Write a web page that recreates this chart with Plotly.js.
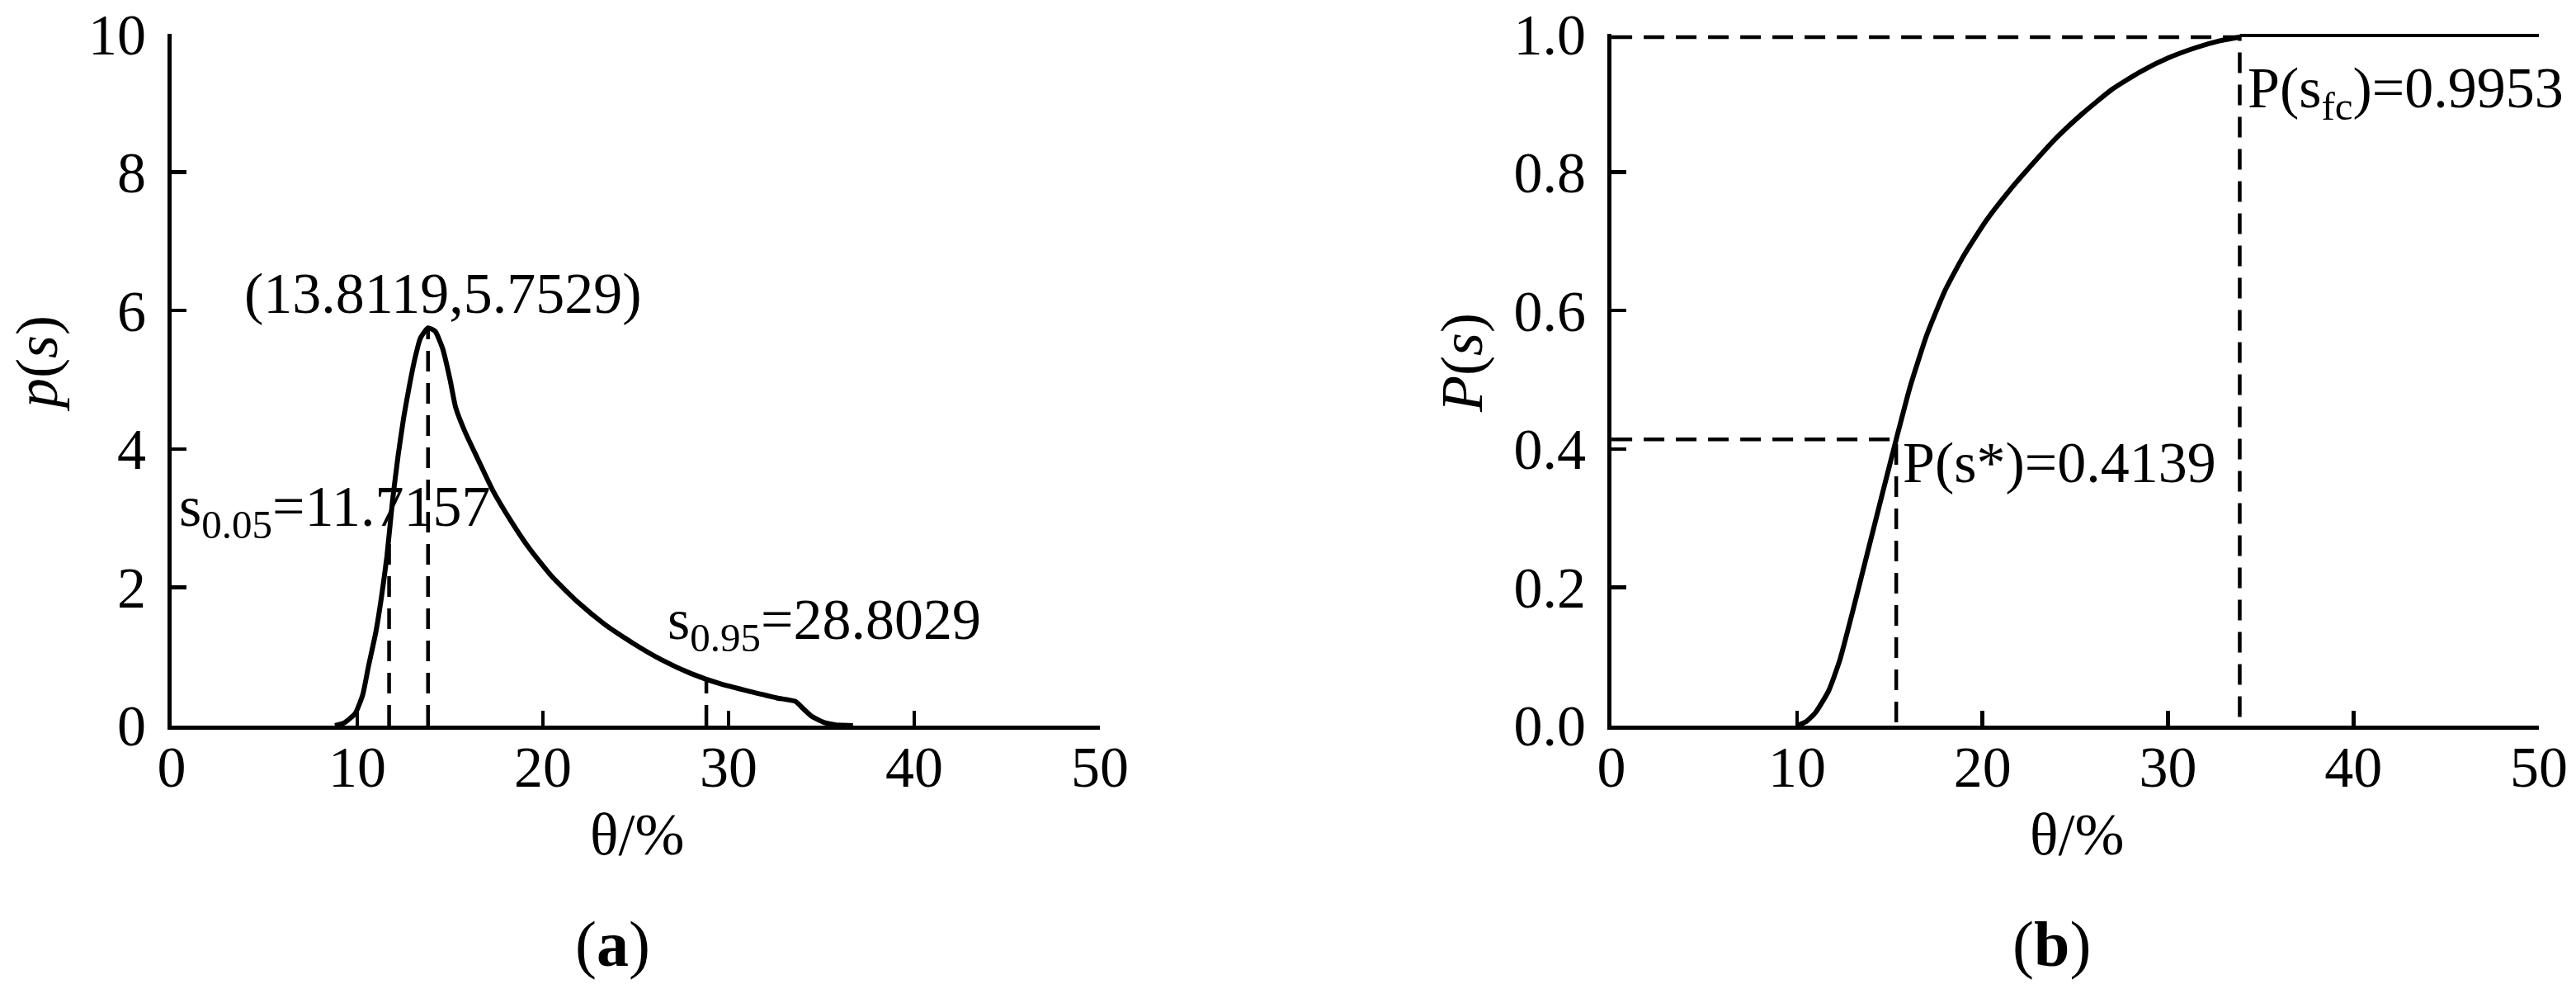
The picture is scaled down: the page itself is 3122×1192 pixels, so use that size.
<!DOCTYPE html>
<html>
<head>
<meta charset="utf-8">
<script src="https://cdn.plot.ly/plotly-3.0.1.min.js"></script>
<style>
  html, body { margin: 0; padding: 0; background: #fff; }
  #plot { width: 3122px; height: 1192px; }
</style>
</head>
<body>
<div id="plot"></div>
<script>
// 1. Data

// (a) probability density p(s) against theta (%)
var pdfTheta = [8.8, 9.3, 9.9, 10.3, 10.6, 11.0, 11.3, 11.6, 11.9, 12.2, 12.5, 12.8, 13.1, 13.4, 13.81,
  14.2, 14.6, 15.0, 15.3, 15.8, 16.5, 17.3, 18.3, 19.3, 20.5, 21.9, 23.3, 24.8, 26.4, 28.0,
  29.6, 31.2, 32.6, 33.6, 34.0, 34.5, 35.1, 35.8, 36.7];
var pdfValue = [0, 0.04, 0.18, 0.45, 0.85, 1.35, 1.85, 2.45, 3.25, 3.9, 4.45, 4.9, 5.3, 5.6, 5.75,
  5.7, 5.45, 5.0, 4.6, 4.25, 3.85, 3.4, 2.95, 2.55, 2.15, 1.78, 1.47, 1.2, 0.95, 0.75,
  0.6, 0.49, 0.4, 0.35, 0.25, 0.13, 0.05, 0.01, 0];

// (b) cumulative probability P(s)
var cdfTheta = [10.0, 10.5, 11.0, 11.7, 12.3, 13.0, 13.8, 14.6, 15.35, 16.1, 17.0, 18.0, 19.0,
  20.2, 21.5, 22.8, 24.0, 25.4, 27.0, 28.5, 30.0, 31.5, 32.8, 33.87];
var cdfValue = [0, 0.006, 0.019, 0.05, 0.094, 0.165, 0.25, 0.335, 0.4139, 0.49, 0.565, 0.63, 0.68,
  0.73, 0.775, 0.815, 0.85, 0.885, 0.92, 0.945, 0.965, 0.98, 0.99, 0.9953];
var flatTheta = [33.87, 50];
var flatValue = [1, 1];

// marked points
var s05 = 11.7157, p05 = 2.63;
var sPeak = 13.8119, pPeak = 5.7529;
var s95 = 28.8029, p95 = 0.68;
var sStar = 15.35, PStar = 0.4139;
var sFc = 33.87, PFc = 0.9953;

// tick values
var xTicks = [0, 10, 20, 30, 40, 50];
var yTicksA = [0, 2, 4, 6, 8, 10];
var yTicksB = [0, 0.2, 0.4, 0.6, 0.8, 1.0];

// 2. Traces
var solid = { color: "black", width: 6, shape: "spline", smoothing: 0.5 };
var dashed = { color: "black", width: 4.5, dash: "25px,14px" };

var tracePdf = { x: pdfTheta, y: pdfValue, xaxis: "x", yaxis: "y", mode: "lines", line: solid };
var dash05 = { x: [s05, s05], y: [0, p05], xaxis: "x", yaxis: "y", mode: "lines", line: dashed };
var dashPeak = { x: [sPeak, sPeak], y: [0, pPeak], xaxis: "x", yaxis: "y", mode: "lines", line: dashed };
var dash95 = { x: [s95, s95], y: [0, p95], xaxis: "x", yaxis: "y", mode: "lines", line: dashed };

var traceCdf = { x: cdfTheta, y: cdfValue, xaxis: "x2", yaxis: "y2", mode: "lines", line: solid };
var traceFlat = { x: flatTheta, y: flatValue, xaxis: "x2", yaxis: "y2", mode: "lines",
  line: { color: "black", width: 8 } };
var dashStar = { x: [0, sStar, sStar], y: [PStar, PStar, 0], xaxis: "x2", yaxis: "y2", mode: "lines", line: dashed };
var dashFc = { x: [0, sFc, sFc], y: [PFc, PFc, 0], xaxis: "x2", yaxis: "y2", mode: "lines", line: dashed };

var data = [tracePdf, dash05, dashPeak, dash95, traceCdf, traceFlat, dashStar, dashFc];

// 3. Layout
var serif = "Liberation Serif, Times New Roman, serif";
function axis(dom, rng, vals, anchor, fmt) {
  return {
    domain: dom, range: rng, tickvals: vals, anchor: anchor, tickformat: fmt,
    showline: true, linecolor: "black", linewidth: 5,
    ticks: "inside", ticklen: 18, tickwidth: 4.5, tickcolor: "black",
    tickfont: { family: serif, size: 70, color: "black" },
    showgrid: false, zeroline: false, fixedrange: true
  };
}
var xa = axis([0.0666, 0.4270], [0, 50], xTicks, "y");
var ya = axis([0.2626, 0.9656], [0, 10], yTicksA, "x");
var xb = axis([0.6256, 0.9856], [0, 50], xTicks, "y2");
var yb = axis([0.2626, 0.9656], [0, 1], yTicksB, "x2", ".1f");
xa.ticklabelstandoff = -15; xb.ticklabelstandoff = -15;
ya.ticklabelstandoff = 12; yb.ticklabelstandoff = 12;

function note(txt, x, y, xr, yr, xanc, opts) {
  var a = { text: txt, x: x, y: y, xref: xr, yref: yr, xanchor: xanc, yanchor: "middle",
    showarrow: false, font: { family: serif, size: 70, color: "black" } };
  for (var k in opts) a[k] = opts[k];
  return a;
}

var annotations = [
  note("(13.8119,5.7529)", 14.64, 6.25, "x", "y", "center"),
  note("s<sub>0.05</sub>=11.7157", 0.3, 3.1, "x", "y", "left"),
  note("s<sub>0.95</sub>=28.8029", 26.6, 1.47, "x", "y", "left"),
  note("P(s*)=0.4139", 15.6, 0.38, "x2", "y2", "left"),
  note("P(s<sub>fc</sub>)=0.9953", 34.2, 0.915, "x2", "y2", "left"),
  note("θ/%", 0.2473, 0.1518, "paper", "paper", "center", { font: { family: serif, size: 72, color: "black" } }),
  note("θ/%", 0.8062, 0.1518, "paper", "paper", "center", { font: { family: serif, size: 72, color: "black" } }),
  note("<i>p</i>(<i>s</i>)", 0.0144, 0.6309, "paper", "paper", "center", { textangle: -90, font: { family: serif, size: 72, color: "black" } }),
  note("<i>P</i>(<i>s</i>)", 0.5676, 0.6309, "paper", "paper", "center", { textangle: -90, font: { family: serif, size: 72, color: "black" } }),
  note("(<b>a</b>)", 0.2377, 0.0403, "paper", "paper", "center", { font: { family: serif, size: 78, color: "black" } }),
  note("(<b>b</b>)", 0.7966, 0.0403, "paper", "paper", "center", { font: { family: serif, size: 78, color: "black" } })
];

var layout = {
  width: 3122, height: 1192, autosize: false,
  margin: { l: 0, r: 0, t: 0, b: 0 },
  paper_bgcolor: "white", plot_bgcolor: "white",
  showlegend: false,
  xaxis: xa, yaxis: ya, xaxis2: xb, yaxis2: yb,
  annotations: annotations
};

// 4. Plot
Plotly.newPlot("plot", data, layout, { staticPlot: true });
</script>
</body>
</html>
